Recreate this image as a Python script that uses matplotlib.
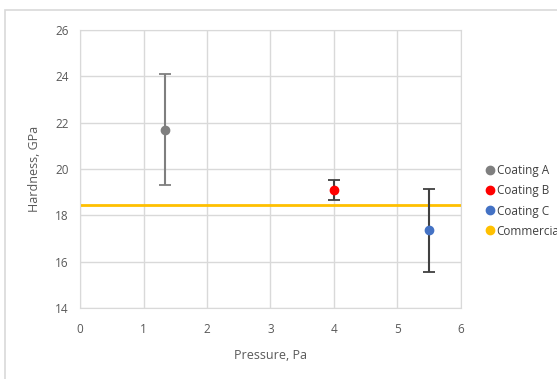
import matplotlib.pyplot as plt
from matplotlib.patches import Rectangle

# data
names = ["Coating A", "Coating B", "Coating C"]
pressure = [1.34, 4.0, 5.5]
hardness = [21.7, 19.1, 17.35]
err = [2.4, 0.42, 1.78]
colors = ["#7f7f7f", "#ff0000", "#4472c4"]
bar_colors = ["#7f7f7f", "#404040", "#404040"]
commercial_x = [0, 6]
commercial_y = [18.45, 18.45]

plt.rcParams['font.family'] = ['Open Sans', 'DejaVu Sans']

fig = plt.figure(figsize=(5.57, 3.79), dpi=100)
# outer chart frame like Excel
fig.patches.append(Rectangle((5 / 557, -0.1), 1.2, (379 - 10) / 379 + 0.1,
                             transform=fig.transFigure, fill=False,
                             edgecolor="#d9d9d9", lw=1.2))

ax = fig.add_axes([80 / 557, 71 / 379, 381 / 557, 278 / 379])

for n, x, y, e, c, bc in zip(names, pressure, hardness, err, colors, bar_colors):
    ax.errorbar([x], [y], yerr=[e], fmt='o', color=c, ecolor=bc, elinewidth=1.5,
                capsize=4, capthick=1.3, markersize=6, label=n, zorder=3)
ax.plot(commercial_x, commercial_y, color="#ffc000", lw=2, label="Commercial", zorder=2)

ax.set_xlim(0, 6)
ax.set_ylim(14, 26)
ax.set_xticks(range(0, 7))
ax.set_yticks(range(14, 27, 2))
ax.grid(True, color="#d9d9d9", lw=1)
ax.set_axisbelow(True)
for s in ax.spines.values():
    s.set_color("#d9d9d9")
ax.tick_params(length=0, labelsize=8.5, colors="#595959")
ax.tick_params(axis='x', pad=11)
ax.tick_params(axis='y', pad=8)
ax.set_xlabel("Pressure, Pa", fontsize=9, color="#595959", labelpad=9)
ax.set_ylabel("Hardness, GPa", fontsize=9, color="#595959", labelpad=10)

leg_handles = [plt.Line2D([], [], ls='', marker='o', color=c, markersize=6)
               for c in colors + ["#ffc000"]]
fig.legend(leg_handles, names + ["Commercial"], loc="center left",
           bbox_to_anchor=(473 / 557, 1 - 201 / 379), frameon=False,
           fontsize=8.5, labelcolor="#404040", handletextpad=0.1,
           labelspacing=0.6, handlelength=1.0)

fig.savefig("out.png", dpi=100)
